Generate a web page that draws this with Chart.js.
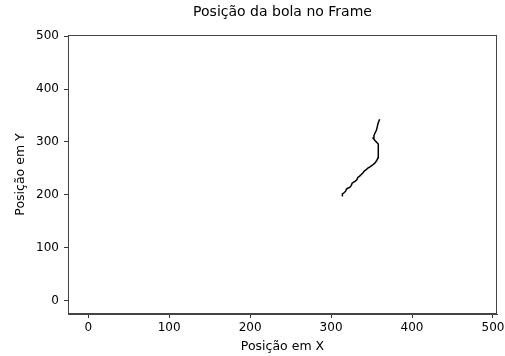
<!DOCTYPE html>
<html>
<head>
<meta charset="utf-8">
<script src="https://cdn.jsdelivr.net/npm/chart.js@4/dist/chart.umd.min.js"></script>
<style>
html,body{margin:0;padding:0;background:#fff;}
#c{display:block;}
</style>
</head>
<body>
<canvas id="c" width="505" height="356"></canvas>
<script>
// Ball trajectory (pixel coordinates in frame)
const posX = [314, 314, 316, 318, 319, 321, 323, 325, 326, 328, 330, 332, 333, 335, 337, 339, 341, 343, 345, 348, 351, 354, 356, 358, 358.5, 358.5, 358, 356, 354, 352, 353, 354, 356, 357, 358, 360];
const posY = [197, 202, 204, 207, 211, 213, 214, 218, 222, 224, 226, 229, 233, 235, 238, 241, 245, 247, 250, 253, 256, 260, 264, 270, 280, 290, 296, 300, 303, 307, 312, 316, 322, 328, 335, 343];
const xTicks = [0, 100, 200, 300, 400, 500];
const yTicks = [0, 100, 200, 300, 400, 500];
const titleText = 'Posição da bola no Frame';
const xLabel = 'Posição em X';
const yLabel = 'Posição em Y';

const points = posX.map((x, i) => ({x: x, y: posY[i]}));
const FONT = 'DejaVu Sans';

const frameBox = {
  id: 'frameBox',
  afterDatasetsDraw(chart) {
    const {ctx, chartArea: a} = chart;
    ctx.save();
    ctx.strokeStyle = '#444';
    ctx.lineWidth = 1;
    ctx.strokeRect(Math.round(a.left) + 0.5, Math.round(a.top) + 0.5,
                   Math.round(a.right - a.left) - 1, Math.round(a.bottom - a.top) - 1);
    ctx.restore();
  }
};

// Title centred over the plotting area (as matplotlib does)
const axesTitle = {
  id: 'axesTitle',
  afterDraw(chart) {
    const {ctx, chartArea: a} = chart;
    ctx.save();
    ctx.fillStyle = '#000';
    ctx.font = '14px "' + FONT + '"';
    ctx.textAlign = 'center';
    ctx.textBaseline = 'middle';
    ctx.fillText(titleText, (a.left + a.right) / 2, 12);
    ctx.restore();
  }
};

new Chart(document.getElementById('c'), {
  type: 'scatter',
  data: {
    datasets: [{
      data: points,
      showLine: true,
      borderColor: '#000',
      borderWidth: 1.5,
      pointRadius: 0,
      fill: false,
      tension: 0
    }]
  },
  options: {
    responsive: false,
    animation: false,
    devicePixelRatio: 1,
    layout: {padding: {left: 0, right: 8, top: 35, bottom: 0}},
    plugins: {
      legend: {display: false},
      tooltip: {enabled: false},
      title: {display: false}
    },
    scales: {
      x: {
        type: 'linear',
        min: -25,
        max: 505,
        afterBuildTicks: s => { s.ticks = xTicks.map(v => ({value: v})); },
        afterFit: s => { s.height = 42; s.paddingRight = 0; s.paddingLeft = 0; },
        grid: {display: true, drawOnChartArea: false, drawTicks: true, tickLength: 4, color: '#333', tickWidth: 1},
        border: {display: true, color: '#444', width: 1},
        ticks: {color: '#000', font: {family: FONT, size: 12}, padding: 3, maxRotation: 0},
        title: {display: true, text: xLabel, color: '#000', font: {family: FONT, size: 12.5}, padding: {top: 0, bottom: 1.5}}
      },
      y: {
        type: 'linear',
        min: -25,
        max: 502,
        afterBuildTicks: s => { s.ticks = yTicks.map(v => ({value: v})); },
        afterFit: s => { s.width = 68; s.paddingTop = 0; s.paddingBottom = 0; },
        grid: {display: true, drawOnChartArea: false, drawTicks: true, tickLength: 4, color: '#333', tickWidth: 1},
        border: {display: true, color: '#444', width: 1},
        ticks: {color: '#000', font: {family: FONT, size: 12}, padding: 5},
        title: {display: true, text: yLabel, color: '#000', font: {family: FONT, size: 12.5}, padding: {top: 13.5, bottom: 0}}
      }
    }
  },
  plugins: [frameBox, axesTitle]
});
</script>
</body>
</html>
